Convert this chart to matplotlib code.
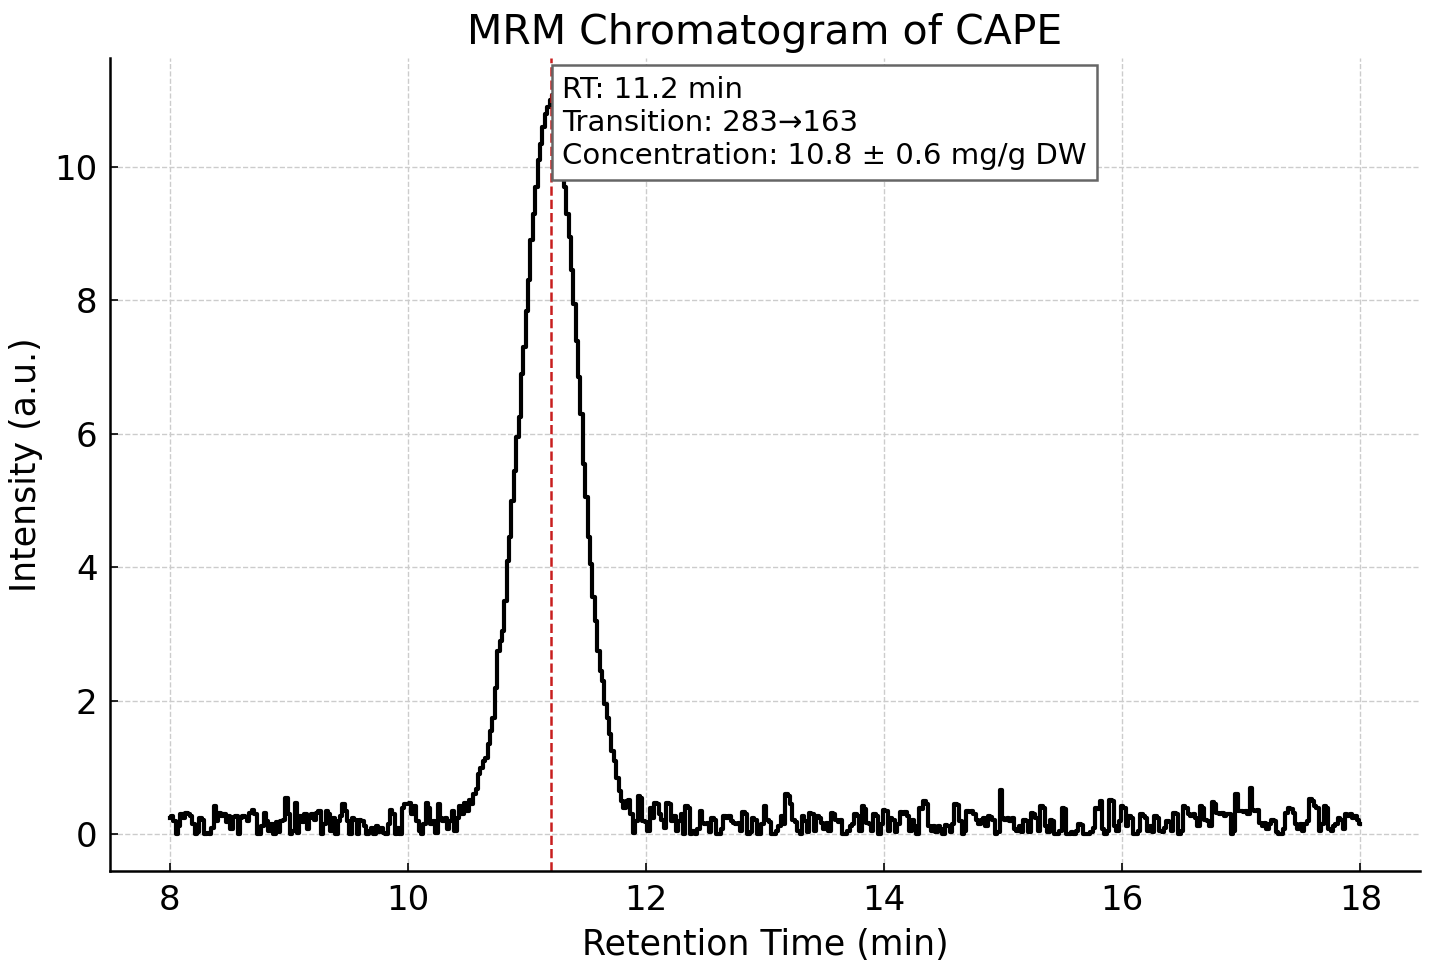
import numpy as np
import matplotlib
matplotlib.use("Agg")
import matplotlib.pyplot as plt

# baseline before the peak, 8.00 - 10.48 min, step 0.02 (intensity x 100)
base_pre = [
    25, 27, 20, 0, 12, 30, 25, 32, 30, 28,
    15, 0, 3, 25, 22, 0, 2, 0, 10, 42,
    20, 32, 28, 30, 18, 28, 8, 26, 28, 0,
    25, 28, 26, 20, 32, 36, 30, 0, 0, 12,
    32, 20, 5, 15, 0, 18, 3, 20, 22, 54,
    30, 0, 5, 47, 2, 28, 18, 30, 8, 25,
    30, 22, 32, 35, 0, 15, 35, 30, 5, 25,
    0, 20, 28, 46, 35, 20, 0, 25, 22, 0,
    22, 20, 12, 0, 5, 10, 0, 12, 3, 10,
    2, 0, 15, 37, 30, 0, 10, 0, 40, 46,
    46, 47, 30, 42, 20, 5, 0, 15, 47, 40,
    15, 20, 2, 45, 25, 20, 25, 8, 20, 35,
    5, 25, 42, 30, 47,
]

# CAPE peak, 10.50 - 11.88 min
peak = [
    0.35, 0.52, 0.45, 0.60, 0.68, 0.90, 1.00, 1.10, 1.15, 1.35,
    1.55, 1.75, 2.20, 2.75, 2.90, 3.05, 3.50, 4.10, 4.45, 5.00,
    5.45, 5.95, 6.25, 6.90, 7.30, 7.85, 8.30, 8.90, 9.30, 9.70,
    10.10, 10.35, 10.60, 10.80, 10.90, 11.00, 11.08, 11.02, 10.80, 10.45,
    10.05, 9.70, 9.30, 8.95, 8.45, 7.95, 7.40, 6.85, 6.30, 5.55,
    5.05, 4.45, 4.05, 3.55, 3.20, 2.75, 2.45, 2.30, 1.95, 1.75,
    1.50, 1.25, 1.10, 0.85, 0.65, 0.50, 0.40, 0.50, 0.52, 0.30,
]

# baseline after the peak, 11.90 - 18.00 min (intensity x 100)
base_post = [
    2, 20, 58, 55, 20, 18, 5, 40, 25, 47,
    45, 30, 22, 10, 47, 45, 20, 27, 5, 20,
    30, 0, 43, 40, 0, 5, 0, 8, 35, 17,
    15, 17, 3, 25, 22, 0, 0, 8, 27, 25,
    27, 20, 17, 15, 17, 5, 33, 30, 0, 3,
    25, 22, 0, 0, 15, 42, 22, 18, 0, 0,
    5, 12, 27, 15, 60, 58, 45, 22, 18, 5,
    0, 27, 20, 3, 32, 30, 5, 27, 25, 17,
    8, 17, 5, 32, 30, 22, 18, 22, 0, 0,
    5, 12, 15, 30, 28, 5, 42, 38, 17, 15,
    5, 30, 28, 0, 15,
    # 14.00
    37, 35, 5, 25, 22, 3, 15, 33, 30, 33,
    28, 5, 22, 12, 0, 40, 38, 50, 45, 12,
    5, 12, 3, 12, 8, 0, 14, 12, 3, 15,
    45, 44, 20, 0, 5, 35, 33, 35, 30, 22,
    15, 22, 25, 12, 27, 26, 22, 0, 3, 66,
    25, 22, 25, 20, 24, 8, 5, 12, 3, 22,
    20, 3, 32, 30, 25, 5, 43, 40, 12, 3,
    22, 20, 0, 0, 5, 40, 38, 0, 0, 3,
    0, 5, 15, 14, 0, 0, 0, 3, 10, 40,
    38, 50, 8, 0, 5, 52, 50, 12, 5, 20,
    # 16.00
    42, 40, 12, 27, 25, 0, 0, 5, 30, 28,
    25, 5, 12, 3, 27, 25, 5, 3, 10, 20,
    18, 5, 32, 30, 0, 5, 42, 40, 30, 28,
    30, 25, 12, 43, 40, 22, 20, 12, 48, 45,
    32, 30, 32, 28, 31, 30, 0, 5, 60, 35,
    35, 33, 35, 30, 70, 37, 35, 37, 17, 12,
    17, 8, 15, 22, 20, 3, 0, 0, 8, 32,
    40, 38, 32, 15, 8, 15, 5, 15, 20, 53,
    50, 42, 40, 5, 15, 42, 40, 8, 5, 12,
    15, 25, 22, 8, 30, 28, 30, 25, 28, 22,
    15,
]

intensity = np.concatenate([np.array(base_pre) / 100.0,
                            np.array(peak),
                            np.array(base_post) / 100.0])
rt = np.linspace(8, 18, len(intensity))

rt_peak = 11.2
info = "RT: 11.2 min\nTransition: 283\u2192163\nConcentration: 10.8 \u00b1 0.6 mg/g DW"

fig, ax = plt.subplots(figsize=(14.3, 9.67), dpi=100)
fig.subplots_adjust(left=0.077, right=0.993, top=0.94, bottom=0.099)

ax.plot(rt, intensity, color="black", lw=3.0, drawstyle="steps-mid")
ax.axvline(rt_peak, color="#c81e1e", ls="--", lw=1.8)

ax.set_title("MRM Chromatogram of CAPE", fontsize=29.5, pad=10)
ax.set_xlabel("Retention Time (min)", fontsize=25, labelpad=8)
ax.set_ylabel("Intensity (a.u.)", fontsize=25, labelpad=8)

ax.set_xticks([8, 10, 12, 14, 16, 18])
ax.set_yticks([0, 2, 4, 6, 8, 10])
ax.tick_params(labelsize=24.5, direction="in", length=6, width=1.2, pad=9)
ax.grid(True, ls="--", color="#cccccc", lw=1)
ax.spines["top"].set_visible(False)
ax.spines["right"].set_visible(False)
for s in ("left", "bottom"):
    ax.spines[s].set_linewidth(1.8)

ax.text(0.345, 0.978, info, transform=ax.transAxes, fontsize=21,
        va="top", ha="left", linespacing=1.22, zorder=5,
        bbox=dict(boxstyle="square,pad=0.36", facecolor="white",
                  edgecolor="#666666", lw=1.8))

fig.savefig("out.png")
